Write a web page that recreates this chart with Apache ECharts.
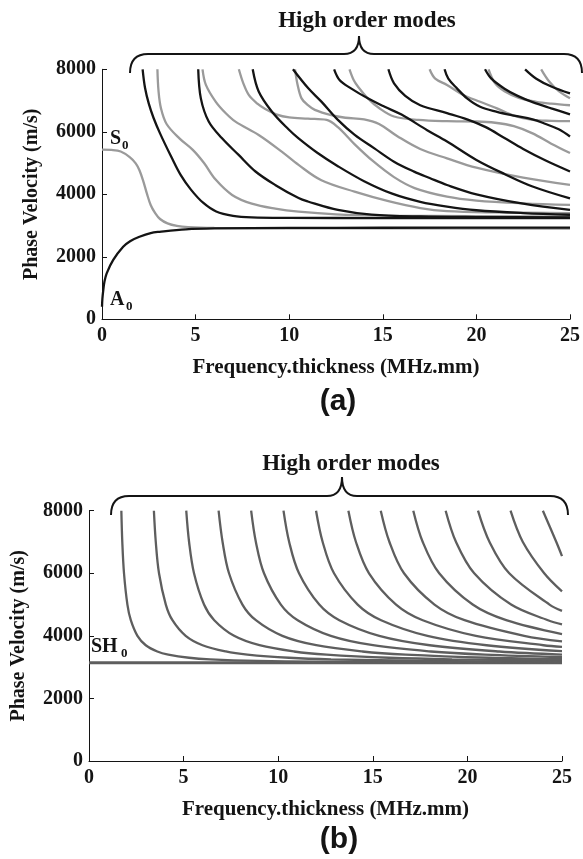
<!DOCTYPE html>
<html>
<head>
<meta charset="utf-8">
<script src="https://cdn.jsdelivr.net/npm/echarts/dist/echarts.min.js"></script>
<style>
  html, body { margin: 0; padding: 0; background: #fff; }
  #chart { width: 583px; height: 859px; }
</style>
</head>
<body>
<div id="chart"></div>
<script>
// (a) Lamb modes, points are [frequency.thickness, phase velocity]
const a0 = [[0,400],[0.02,650],[0.07,940],[0.13,1200],[0.25,1470],[0.6,1900],[1.13,2320],[1.5,2500],[2.0,2640],[2.6,2760],[3.07,2800],[4.48,2880],[6,2910],[10,2925],[15,2930],[25,2935]]
const s0 = [[0,5430],[0.5,5420],[1.0,5370],[1.48,5190],[1.8,4990],[2.0,4770],[2.2,4430],[2.4,4020],[2.6,3660],[2.85,3390],[3.1,3210],[3.5,3070],[4.0,2990],[4.6,2950],[6,2925],[10,2912],[25,2905]]
const a1 = [[2.17,8000],[2.3,7400],[2.5,6900],[2.75,6450],[3.1,5950],[3.7,5200],[4.2,4620],[4.75,4150],[5.4,3730],[6.1,3450],[7.0,3310],[8.0,3260],[10,3245],[15,3240],[25,3238]]
const s1 = [[2.96,8000],[3.02,7300],[3.15,6750],[3.45,6250],[4.15,5780],[4.85,5420],[5.45,5000],[6.07,4470],[6.95,3980],[8.0,3700],[9.26,3540],[10.5,3445],[12.5,3360],[15,3320],[20,3300],[25,3288]]
const a2 = [[5.14,8000],[5.28,7070],[5.7,6330],[6.4,5800],[7.3,5260],[8.2,4730],[9.25,4300],[10.5,3880],[11.0,3770],[12.6,3500],[14.4,3350],[17,3290],[20,3272],[25,3262]]
const s2 = [[5.37,8000],[5.55,7500],[6.07,6965],[6.6,6600],[7.13,6325],[8.37,5898],[9.6,5365],[10.5,4940],[11.72,4450],[13.49,4085],[15.3,3780],[17,3560],[18.43,3460],[21,3420],[25,3400]]
const s3 = [[7.31,8000],[7.55,7550],[7.84,7180],[8.3,6900],[8.72,6730],[9.3,6560],[10,6460],[11,6420],[12,6380],[12.6,6150],[13.5,5600],[14.5,5050],[15.6,4550],[16.7,4200],[18.43,3925],[20,3800],[22.5,3710],[25,3660]]
const a3 = [[8.05,8000],[8.37,7290],[9.07,6650],[9.96,6080],[10.5,5790],[11.5,5330],[12.6,4900],[14,4420],[15.5,4020],[17,3760],[18.43,3605],[20,3490],[22.5,3400],[25,3345]]
const a4 = [[10.2,8000],[11.02,7390],[11.72,6965],[12.6,6380],[13.5,5900],[14.55,5470],[15.6,5045],[16.67,4725],[17.5,4520],[18.43,4298],[20,4000],[22.5,3700],[25,3500]]
const s4 = [[10.31,8000],[10.45,7500],[10.66,7070],[11.0,6850],[11.37,6700],[12.25,6530],[13,6450],[14,6400],[14.8,6250],[15.8,5850],[17,5450],[18.43,5150],[20,4850],[22.5,4530],[25,4300]]
const a5 = [[12.4,8000],[12.7,7650],[13.3,7390],[14.2,7070],[15.1,6800],[16,6550],[17.37,6050],[18.43,5690],[20,5100],[21.5,4650],[23,4250],[25,3870]]
const s5 = [[13.22,8000],[13.45,7650],[13.67,7450],[14.2,7070],[14.8,6760],[15.6,6490],[16.9,6380],[18.43,6340],[20,6330],[21,6290],[22,6180],[23,5950],[24,5620],[25,5320]]
const a6 = [[15.3,8000],[15.6,7550],[16.2,7150],[17,6850],[18.43,6600],[19.5,6400],[20.5,6150],[21.5,5800],[22.5,5450],[23.7,5080],[25,4730]]
const s6 = [[17.5,8000],[17.8,7700],[18.43,7500],[19.3,7180],[20.2,6960],[21.1,6750],[22,6520],[23,6380],[24,6350],[25,6340]]
const a7 = [[18.3,8000],[18.5,7700],[18.96,7390],[19.5,7070],[20.2,6800],[21.1,6640],[22,6520],[23,6400],[23.7,6250],[24.4,6080],[25,5850]]
const a8 = [[20.46,8000],[20.8,7700],[21.5,7380],[22.2,7150],[23,6950],[24,6750],[25,6560]]
const s7 = [[20.65,8000],[21.0,7550],[21.5,7300],[22.3,7080],[23.2,6960],[24,6900],[25,6850]]
const a9 = [[22.6,8000],[23.2,7700],[24,7450],[25,7230]]
const s8 = [[23.46,8000],[23.9,7600],[24.4,7300],[25,7070]]

// (b) SH modes
const sh0 = [[0,3140],[25,3140]]
const sh1 = [[1.71,8000],[1.76,7000],[1.85,6000],[2.03,5000],[2.21,4500],[2.56,4000],[3.00,3700],[3.61,3500],[4.19,3400],[5.29,3300],[6.40,3250],[8.94,3200],[12,3178],[25,3156]]
const sh2 = [[3.43,8000],[3.53,7000],[3.70,6000],[4.06,5000],[4.41,4500],[5.11,4000],[6.00,3700],[7.23,3500],[8.37,3400],[10.57,3300],[12.79,3250],[17.89,3200],[25,3175]]
const sh3 = [[5.14,8000],[5.29,7000],[5.55,6000],[6.08,5000],[6.62,4500],[7.67,4000],[9.01,3700],[10.84,3500],[12.56,3400],[15.86,3300],[19.19,3250],[25,3208]]
const sh4 = [[6.85,8000],[7.06,7000],[7.40,6000],[8.11,5000],[8.82,4500],[10.22,4000],[12.01,3700],[14.45,3500],[16.74,3400],[21.14,3300],[25,3255]]
const sh5 = [[8.57,8000],[8.82,7000],[9.25,6000],[10.14,5000],[11.03,4500],[12.78,4000],[15.01,3700],[18.07,3500],[20.93,3400],[25,3319]]
const sh6 = [[10.28,8000],[10.58,7000],[11.10,6000],[12.17,5000],[13.23,4500],[15.34,4000],[18.01,3700],[21.68,3500],[25,3403]]
const sh7 = [[12.00,8000],[12.35,7000],[12.95,6000],[14.20,5000],[15.44,4500],[17.89,4000],[21.01,3700],[25,3510]]
const sh8 = [[13.71,8000],[14.11,7000],[14.80,6000],[16.23,5000],[17.64,4500],[20.45,4000],[24.02,3700],[25,3647]]
const sh9 = [[15.42,8000],[15.88,7000],[16.65,6000],[18.26,5000],[19.85,4500],[23.00,4000],[25,3824]]
const sh10 = [[17.14,8000],[17.64,7000],[18.51,6000],[20.28,5000],[22.05,4500],[25,4056]]
const sh11 = [[18.85,8000],[19.40,7000],[20.36,6000],[22.31,5000],[24.26,4500],[25,4369]]
const sh12 = [[20.56,8000],[21.17,7000],[22.21,6000],[24.34,5000],[25,4800]]
const sh13 = [[22.28,8000],[22.93,7000],[24.06,6000],[25,5420]]
const sh14 = [[23.99,8000],[24.70,7000],[25,6550]]

const symModes = [s0, s1, s2, s3, s4, s5, s6, s7, s8]
const antiModes = [a0, a1, a2, a3, a4, a5, a6, a7, a8, a9]
const shModes = [sh1, sh2, sh3, sh4, sh5, sh6, sh7, sh8, sh9, sh10, sh11, sh12, sh13, sh14]

const SERIF = '"Liberation Serif", "Times New Roman", serif'
const SANS = '"Liberation Sans", Arial, sans-serif'
const INK = '#141414'

const chart = echarts.init(document.getElementById('chart'))

function curve(data, idx, color, width) {
  return {
    type: 'line',
    xAxisIndex: idx,
    yAxisIndex: idx,
    data: data,
    showSymbol: false,
    symbol: 'none',
    smooth: 0.35,
    silent: true,
    lineStyle: { color: color, width: width }
  }
}

function xAxisOf(idx) {
  return {
    gridIndex: idx,
    type: 'value',
    min: 0,
    max: 25,
    interval: 5,
    name: 'Frequency.thickness (MHz.mm)',
    nameLocation: 'middle',
    nameGap: 38,
    nameTextStyle: { fontFamily: SERIF, fontWeight: 'bold', fontSize: 21, color: INK },
    axisLine: { lineStyle: { color: INK, width: 1 } },
    axisTick: { inside: true, length: 5, lineStyle: { color: INK } },
    axisLabel: { fontFamily: SERIF, fontWeight: 'bold', fontSize: 20, color: INK, margin: 7 },
    splitLine: { show: false }
  }
}

function yAxisOf(idx) {
  return {
    gridIndex: idx,
    type: 'value',
    min: 0,
    max: 8000,
    interval: 2000,
    name: 'Phase Velocity (m/s)',
    nameLocation: 'middle',
    nameGap: 60,
    nameTextStyle: { fontFamily: SERIF, fontWeight: 'bold', fontSize: 20, color: INK },
    axisLine: { show: true, lineStyle: { color: INK, width: 1 } },
    axisTick: { show: true, inside: true, length: 5, lineStyle: { color: INK } },
    axisLabel: {
      fontFamily: SERIF, fontWeight: 'bold', fontSize: 20, color: INK, margin: 6,
      formatter: v => String(v)
    },
    splitLine: { show: false }
  }
}

function label(text, x, y, size, family, align) {
  return {
    type: 'text',
    x: x,
    y: y,
    silent: true,
    style: {
      text: text,
      font: 'bold ' + size + 'px ' + family,
      fill: INK,
      textAlign: align || 'left',
      textVerticalAlign: 'middle'
    }
  }
}

// curly brace: ends at (x1, yEnd) and (x2, yEnd), bar at yBar, cusp at (xc, yPeak)
function brace(x1, x2, xc, yEnd, yBar, yPeak, r) {
  const stroke = { stroke: INK, lineWidth: 2, fill: null }
  const q = (ax, ay, cx, cy, bx, by) => ({
    type: 'bezierCurve', silent: true, style: stroke,
    shape: { x1: ax, y1: ay, cpx1: cx, cpy1: cy, x2: bx, y2: by }
  })
  const l = (ax, ay, bx, by) => ({
    type: 'line', silent: true, style: stroke,
    shape: { x1: ax, y1: ay, x2: bx, y2: by }
  })
  return [
    q(x1, yEnd, x1, yBar, x1 + r, yBar),
    l(x1 + r, yBar, xc - 15, yBar),
    q(xc - 15, yBar, xc, yBar, xc, yPeak),
    q(xc, yPeak, xc, yBar, xc + 15, yBar),
    l(xc + 15, yBar, x2 - r, yBar),
    q(x2 - r, yBar, x2, yBar, x2, yEnd)
  ]
}

const series = []
symModes.forEach(d => series.push(curve(d, 0, '#9a9a9a', 2.3)))
antiModes.forEach(d => series.push(curve(d, 0, INK, 2.3)))
series.push(curve(sh0, 1, '#5e5e5e', 2.8))
shModes.forEach(d => series.push(curve(d, 1, '#5e5e5e', 2.3)))

chart.setOption({
  animation: false,
  backgroundColor: '#fff',
  grid: [
    { left: 102, top: 69.3, width: 472, height: 250 },
    { left: 89, top: 510.7, width: 473, height: 250.3 }
  ],
  xAxis: [xAxisOf(0), xAxisOf(1)],
  yAxis: [yAxisOf(0), yAxisOf(1)],
  series: series,
  graphic: [
    label('High order modes', 367, 21, 23, SERIF, 'center'),
    ...brace(130, 582, 359, 73, 54, 36, 18),
    label('S', 110, 139, 20, SERIF),
    label('0', 122, 146, 13, SERIF),
    label('A', 110, 300, 20, SERIF),
    label('0', 126, 307, 13, SERIF),
    label('(a)', 338, 402, 30, SANS, 'center'),
    label('High order modes', 351, 464, 23, SERIF, 'center'),
    ...brace(111, 568, 342, 515, 496, 477, 18),
    label('SH', 91, 647, 20, SERIF),
    label('0', 121, 654, 13, SERIF),
    label('(b)', 339, 840, 30, SANS, 'center')
  ]
})
</script>
</body>
</html>
